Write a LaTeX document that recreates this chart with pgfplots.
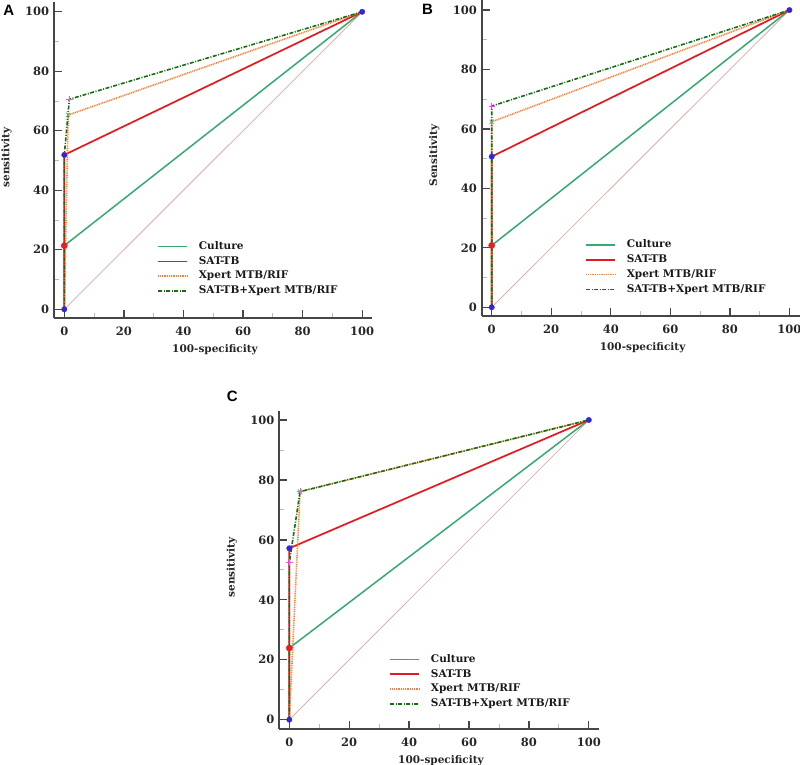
\documentclass[border=0pt]{standalone}
\usepackage{pgfplots}
\pgfplotsset{compat=1.18}
\usepackage{fontspec}
\setmainfont{DejaVu Serif}
\newfontfamily\labfont{Liberation Sans}
\definecolor{culturec}{RGB}{52,170,112}
\definecolor{satc}{RGB}{228,24,30}
\definecolor{xpertc}{RGB}{255,125,50}
\definecolor{combc}{RGB}{20,110,20}
\definecolor{diagc}{RGB}{222,172,172}
\definecolor{bluedot}{RGB}{40,40,230}
\definecolor{reddot}{RGB}{235,30,30}
\definecolor{pinkc}{RGB}{240,80,240}
\definecolor{greenx}{RGB}{110,180,110}
\definecolor{axisgray}{RGB}{70,70,70}
\newcommand{\tfont}{\bfseries\fontsize{10.5}{12}\selectfont}
\newcommand{\kfont}{\bfseries\fontsize{11.5}{13}\selectfont}
\tikzset{
  diag/.style={color=diagc, line width=0.8pt},
  cul/.style={color=culturec, line width=1.5pt},
  sat/.style={color=satc, line width=1.7pt},
  xpe/.style={color=xpertc, line width=1.6pt, dash pattern=on 1pt off 0.8pt},
  com/.style={color=combc, line width=1.6pt, dash pattern=on 4pt off 1.5pt on 1pt off 1.5pt},
}
\pgfplotsset{
  rocax/.style={
    scale only axis,
    anchor=south west,
    axis x line=bottom, axis y line=left,
    axis line style={-, line width=1.8pt, color=axisgray},
    xtick={0,20,...,100}, ytick={0,20,...,100},
    minor x tick num=1, minor y tick num=1,
    tick align=inside,
    major tick length=8pt, minor tick length=5pt,
    major tick style={line width=1.3pt, color=axisgray},
    minor tick style={line width=0.9pt, color=gray!55},
    /pgf/number format/assume math mode=true,
    tick label style={font=\kfont, text=black!85},
    xticklabel style={inner sep=0pt, yshift=-8.4pt},
    yticklabel style={inner sep=0pt, xshift=-4.7pt},
    xlabel style={at={(axis description cs:0.5,0)}, anchor=center, yshift=-31.3pt, xshift=2pt, font=\tfont, text=black!85},
    ylabel style={at={(axis description cs:-0.149,0.508)}, anchor=center, font=\tfont, text=black!85},
    xlabel={100-specificity},
    legend cell align=left,
    legend style={draw=none, fill=none, inner sep=0pt, font=\tfont, text=black!90,
      nodes={inner sep=0pt, text height=8pt, text depth=2.5pt},
      row sep=4.3pt,
      /tikz/every odd column/.append style={column sep=10.7pt}},
    legend image code/.code={\draw[##1] (0pt,0pt) -- (29pt,0pt);},
  },
  bdot/.style={only marks, mark=*, mark size=2.7pt, mark options={fill=bluedot, draw=bluedot!70!purple}},
  rdot/.style={only marks, mark=*, mark size=3.1pt, mark options={fill=reddot, draw=reddot}},
  gx/.style={only marks, mark=x, mark size=3pt, mark options={draw=greenx, line width=0.8pt}},
  pplus/.style={only marks, mark=+, mark size=3.2pt, mark options={draw=pinkc, line width=0.8pt}},
}
\newcommand{\rocleg}{%
  \addlegendimage{color=culturec, line width=1.6pt}
  \addlegendentry{Culture}
  \addlegendimage{color=satc, line width=1.7pt}
  \addlegendentry{SAT-TB}
  \addlegendimage{color=xpertc, line width=1.6pt, dash pattern=on 1pt off 0.8pt}
  \addlegendentry{Xpert MTB/RIF}
  \addlegendimage{color=combc, line width=1.6pt, dash pattern=on 4pt off 1.5pt on 1pt off 1.5pt}
  \addlegendentry{SAT-TB+Xpert MTB/RIF}
}
\begin{document}
\begin{tikzpicture}[x=1pt,y=1pt]
\path[use as bounding box] (0,0) rectangle (800,765);
% ---------------- A ----------------
\begin{axis}[rocax, at={(54pt,447pt)}, width=318pt, height=316pt,
  xmin=-3.46, xmax=103.3, ymin=-2.92, ymax=103.3,
  ylabel={sensitivity},
  legend style={at={(axis cs:31.2,22.9)}, anchor=north west}]
\rocleg
\addplot[diag, forget plot] coordinates {(0,0) (100,100)};
\addplot[cul, forget plot] coordinates {(0,0) (0,21.4) (100,100)};
\addplot[sat, forget plot] coordinates {(0,0) (0,51.9) (100,100)};
\addplot[xpe, forget plot] coordinates {(0,0) (1.3,65.3) (100,100)};
\addplot[com, forget plot] coordinates {(0,0) (0,51.9) (1.7,70.6) (100,100)};
\addplot[bdot, forget plot] coordinates {(0,0) (0,51.9) (100,100)};
\addplot[rdot, forget plot] coordinates {(0,21.4)};
\addplot[gx, forget plot] coordinates {(1.3,65.3)};
\addplot[pplus, forget plot] coordinates {(1.7,70.6)};
\end{axis}
% ---------------- B ----------------
\begin{axis}[rocax, at={(481.7pt,449pt)}, width=317.8pt, height=316pt,
  xmin=-3.36, xmax=103.4, ymin=-2.93, ymax=103.4,
  ylabel={Sensitivity},
  legend style={at={(axis cs:31.4,22.8)}, anchor=north west}]
\rocleg
\addplot[diag, forget plot] coordinates {(0,0) (100,100)};
\addplot[cul, forget plot] coordinates {(0,0) (0,20.8) (100,100)};
\addplot[sat, forget plot] coordinates {(0,0) (0,50.7) (100,100)};
\addplot[xpe, forget plot] coordinates {(0,0) (0,62.4) (100,100)};
\addplot[com, forget plot] coordinates {(0,0) (0,67.7) (100,100)};
\addplot[bdot, forget plot] coordinates {(0,0) (0,50.7) (100,100)};
\addplot[rdot, forget plot] coordinates {(0,20.8)};
\addplot[gx, forget plot] coordinates {(0,62.4)};
\addplot[pplus, forget plot] coordinates {(0,67.7)};
\end{axis}
% ---------------- C ----------------
\begin{axis}[rocax, at={(279.3pt,36pt)}, width=319.4pt, height=318.3pt,
  xmin=-3.34, xmax=103.3, ymin=-3.1, ymax=103.1,
  ylabel={sensitivity},
  legend style={at={(axis cs:33.4,21.9)}, anchor=north west}]
\rocleg
\addplot[diag, forget plot] coordinates {(0,0) (100,100)};
\addplot[cul, forget plot] coordinates {(0,0) (0,23.9) (100,100)};
\addplot[sat, forget plot] coordinates {(0,0) (0,57.2) (100,100)};
\addplot[xpe, forget plot] coordinates {(0,0) (3.6,76.1) (100,100)};
\addplot[com, forget plot] coordinates {(0,0) (0,52.4) (3.6,76.1) (100,100)};
\addplot[bdot, forget plot] coordinates {(0,0) (0,57.2) (100,100)};
\addplot[rdot, forget plot] coordinates {(0,23.9)};
\addplot[gx, forget plot] coordinates {(3.6,76.1)};
\addplot[pplus, forget plot] coordinates {(0,52.4) (3.6,76.1)};
\end{axis}
% panel letters
\node[font=\labfont\bfseries\fontsize{15}{17}\selectfont, inner sep=0pt] at (8.8,754.5) {A};
\node[font=\labfont\bfseries\fontsize{15}{17}\selectfont, inner sep=0pt] at (427.5,755.3) {B};
\node[font=\labfont\bfseries\fontsize{15}{17}\selectfont, inner sep=0pt] at (232.3,368.3) {C};
\end{tikzpicture}
\end{document}
